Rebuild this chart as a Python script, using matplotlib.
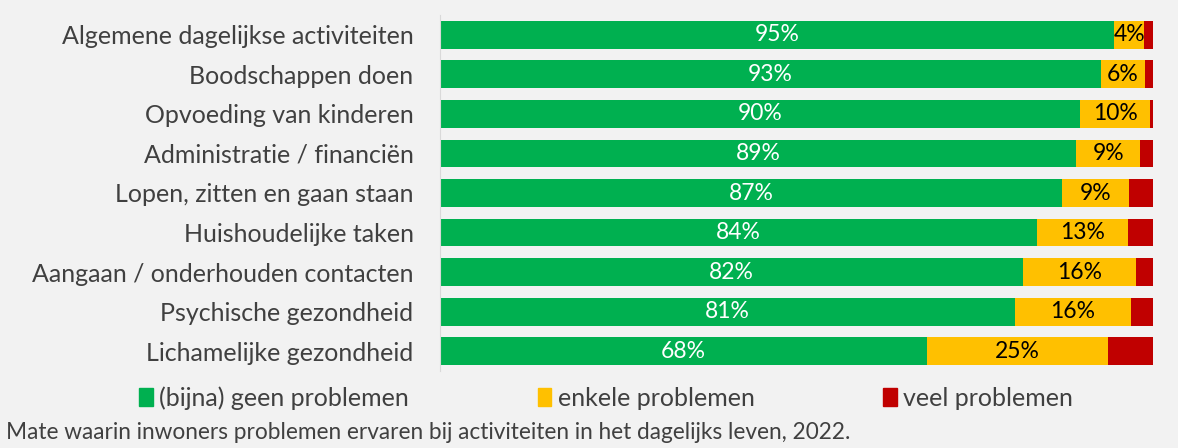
import matplotlib.pyplot as plt
from matplotlib.patches import Patch

categories = ['Algemene dagelijkse activiteiten', 'Boodschappen doen', 'Opvoeding van kinderen',
              'Administratie / financiën', 'Lopen, zitten en gaan staan', 'Huishoudelijke taken',
              'Aangaan / onderhouden contacten', 'Psychische gezondheid', 'Lichamelijke gezondheid']
geen = [94.6, 92.7, 89.8, 89.2, 87.3, 83.7, 81.8, 80.6, 68.3]
enkele = [4.1, 6.2, 9.8, 9.0, 9.4, 12.8, 15.8, 16.3, 25.4]
veel = [1.3, 1.1, 0.4, 1.8, 3.3, 3.5, 2.4, 3.1, 6.3]
series_names = ['(bijna) geen problemen', 'enkele problemen', 'veel problemen']
caption = 'Mate waarin inwoners problemen ervaren bij activiteiten in het dagelijks leven, 2022.'

plt.rcParams['font.family'] = ['Lato', 'DejaVu Sans']
bg = '#f2f2f2'
txt = '#404040'
colors = ['#00b050', '#ffc000', '#c00000']

fig = plt.figure(figsize=(11.78, 4.48), dpi=100, facecolor=bg)
ax = fig.add_axes([440 / 1178, 1 - 371 / 448, 713 / 1178, 356 / 448], facecolor=bg)

y = list(range(len(categories)))
h = 0.7
ax.barh(y, geen, height=h, color=colors[0])
ax.barh(y, enkele, left=geen, height=h, color=colors[1])
left3 = [g + e for g, e in zip(geen, enkele)]
ax.barh(y, veel, left=left3, height=h, color=colors[2])

for i in y:
    ax.text(geen[i] / 2, i, f'{geen[i]:.0f}%', ha='center', va='center', color='white', fontsize=16.5)
    ax.text(geen[i] + enkele[i] / 2, i, f'{enkele[i]:.0f}%', ha='center', va='center', color='black', fontsize=16.5)

ax.set_xlim(0, 100)
ax.set_ylim(len(categories) - 0.5, -0.5)
ax.set_yticks(y)
ax.set_yticklabels(categories, fontsize=18, color=txt)
ax.tick_params(axis='y', length=0, pad=19)
ax.set_xticks([])
for s in ['top', 'right', 'bottom']:
    ax.spines[s].set_visible(False)
ax.spines['left'].set_color('#d9d9d9')

handles = [Patch(color=c) for c in colors]
fig.legend(handles, series_names, loc='center', bbox_to_anchor=(606 / 1178, 1 - 398 / 448), ncol=3,
           frameon=False, fontsize=18, labelcolor=txt, handlelength=0.55, handleheight=0.75,
           handletextpad=0.25, columnspacing=5.15)

fig.text(6 / 1178, 1 - 432 / 448, caption, fontsize=16.3, color=txt, va='center', ha='left')

fig.savefig('out.png', dpi=100, facecolor=bg)
